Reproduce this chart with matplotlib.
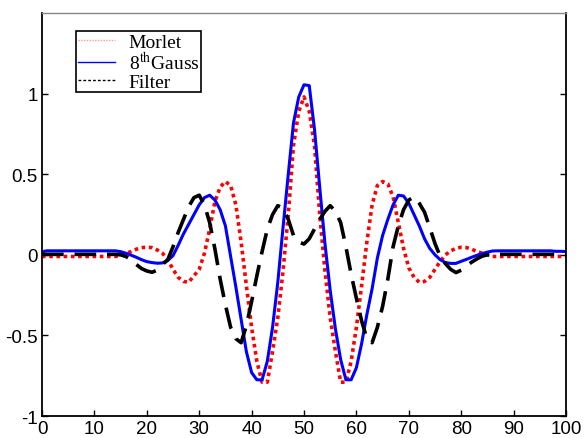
import matplotlib
matplotlib.use('AGG')
import matplotlib.pyplot as plt
from matplotlib.lines import Line2D
import numpy as np

# sample positions 0..100
x = np.arange(0, 101)

morlet = [
    -0.01, -0.01, -0.01, -0.01, -0.01, -0.01, -0.01, -0.01, -0.01, -0.01,
    -0.01, -0.01, -0.01, -0.01, -0.01, 0.0, 0.01, 0.02, 0.035, 0.045,
    0.047, 0.045, 0.03, 0.01, -0.03, -0.09, -0.14, -0.165, -0.17, -0.13,
    -0.09, 0.01, 0.16, 0.33, 0.42, 0.455, 0.43, 0.31, 0.08, -0.19,
    -0.45, -0.66, -0.79, -0.79, -0.6, -0.39, -0.1, 0.25, 0.68, 0.89,
    0.98,
    0.89, 0.68, 0.25, -0.1, -0.39, -0.6, -0.79, -0.79, -0.66, -0.45,
    -0.19, 0.08, 0.31, 0.43, 0.455, 0.44, 0.36, 0.2, 0.04, -0.08,
    -0.14, -0.17, -0.165, -0.14, -0.09, -0.04, 0.0, 0.025, 0.04, 0.047,
    0.045, 0.035, 0.02, 0.01, 0.0, -0.01, -0.01, -0.01, -0.01, -0.01,
    -0.01, -0.01, -0.01, -0.01, -0.01, -0.01, -0.01, -0.01, -0.01, -0.01,
]

gauss8 = [
    0.02, 0.025, 0.025, 0.025, 0.025, 0.025, 0.025, 0.025, 0.025, 0.025,
    0.025, 0.025, 0.025, 0.025, 0.025, 0.02, 0.01, -0.002, -0.015, -0.03,
    -0.042, -0.048, -0.052, -0.05, -0.035, -0.005, 0.06, 0.13, 0.19, 0.25,
    0.31, 0.355, 0.37, 0.34, 0.28, 0.18, -0.01, -0.2, -0.4, -0.6,
    -0.73, -0.775, -0.775, -0.66, -0.45, -0.17, 0.17, 0.5, 0.82, 0.98,
    1.055,
    1.05, 0.78, 0.42, 0.07, -0.22, -0.46, -0.65, -0.775, -0.775, -0.7,
    -0.55, -0.37, -0.21, -0.02, 0.12, 0.22, 0.31, 0.37, 0.365, 0.32,
    0.25, 0.18, 0.1, 0.04, 0.0, -0.03, -0.048, -0.053, -0.053, -0.04,
    -0.028, -0.015, -0.003, 0.008, 0.017, 0.024, 0.025, 0.025, 0.025, 0.025,
    0.025, 0.025, 0.025, 0.025, 0.025, 0.025, 0.025, 0.022, 0.022, 0.02,
]

filt = [
    0.003, 0.003, 0.003, 0.003, 0.003, 0.003, 0.003, 0.003, 0.003, 0.003,
    0.003, 0.003, 0.003, 0.003, 0.003, 0.0, -0.01, -0.03, -0.06, -0.085,
    -0.1, -0.108, -0.095, -0.06, -0.03, 0.05, 0.14, 0.22, 0.3, 0.355,
    0.37, 0.31, 0.2, 0.036, -0.15, -0.31, -0.45, -0.52, -0.545, -0.44,
    -0.29, -0.13, 0.02, 0.16, 0.25, 0.305, 0.29, 0.22, 0.12, 0.08,
    0.067,
    0.1, 0.16, 0.22, 0.27, 0.305, 0.27, 0.2, 0.05, -0.12, -0.27,
    -0.41, -0.52, -0.545, -0.45, -0.32, -0.15, 0.05, 0.18, 0.28, 0.34,
    0.36, 0.32, 0.265, 0.17, 0.07, -0.01, -0.055, -0.09, -0.11, -0.095,
    -0.07, -0.045, -0.025, -0.008, 0.0, 0.003, 0.003, 0.003, 0.003, 0.003,
    0.003, 0.003, 0.003, 0.003, 0.003, 0.003, 0.003, 0.003, 0.003, 0.003,
]

series_names = ['Morlet', '8$^{\\mathrm{th}}$Gauss', 'Filter']
x_ticks = [0, 10, 20, 30, 40, 50, 60, 70, 80, 90, 100]
y_ticks = [-1, -0.5, 0, 0.5, 1]
y_tick_labels = ['-1', '-0.5', '0', '0.5', '1']

plt.rcParams['font.family'] = ['Liberation Sans', 'DejaVu Sans']
plt.rcParams['mathtext.fontset'] = 'stix'

fig = plt.figure(figsize=(5.85, 4.39), dpi=100)
ax = fig.add_axes([0.0718, 0.050, 0.8957, 0.918])

# curves
ax.plot(x, morlet, color='#ff0000', lw=2.6, dashes=(1, 1), dash_capstyle='butt')
ax.plot(x, gauss8, color='#0000ff', lw=2.2)
ax.plot(x, filt, color='black', lw=2.6, dashes=(6, 3))

ax.set_xlim(0, 100)
ax.set_ylim(-1, 1.5)
ax.set_xticks(x_ticks)
ax.set_yticks(y_ticks)
ax.set_yticklabels(y_tick_labels)
ax.tick_params(direction='in', length=4, width=1, labelsize=13.5, pad=3,
               right=True, top=False)

for side in ['left', 'bottom', 'right']:
    ax.spines[side].set_linewidth(1.3)
ax.spines['top'].set_color('#888888')
ax.spines['top'].set_linewidth(1.0)

# legend with thin proxy lines
handles = [
    Line2D([], [], color='#ff9999', lw=1, dashes=(1, 1)),
    Line2D([], [], color='#0000ff', lw=1),
    Line2D([], [], color='black', lw=1, dashes=(2, 1.5)),
]
leg = ax.legend(handles, series_names, loc='upper left',
                bbox_to_anchor=(0.065, 0.955), borderaxespad=0,
                prop={'family': 'Liberation Serif', 'size': 14},
                fancybox=False, edgecolor='black', framealpha=1,
                labelspacing=0.0, handlelength=1.9, handletextpad=0.7,
                borderpad=0.1)
leg.get_frame().set_linewidth(1.2)

plt.savefig('out.png', dpi=100)
